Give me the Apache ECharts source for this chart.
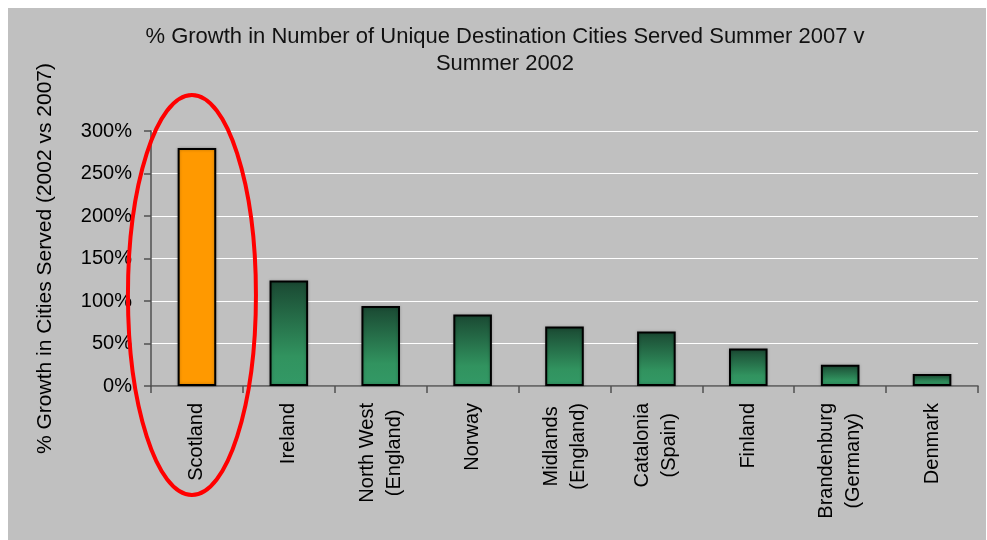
<!DOCTYPE html>
<html>
<head>
<meta charset="utf-8">
<title>% Growth in Number of Unique Destination Cities Served</title>
<script src="https://cdn.jsdelivr.net/npm/echarts@6/dist/echarts.min.js"></script>
<style>
  html, body { margin: 0; padding: 0; background: #ffffff; }
  #chart { width: 987px; height: 540px; }
</style>
</head>
<body>
<div id="chart"></div>
<script>
// Regions compared and their growth in destination cities served (%)
const categories = [
  'Scotland',
  'Ireland',
  'North West\n(England)',
  'Norway',
  'Midlands\n(England)',
  'Catalonia\n(Spain)',
  'Finland',
  'Brandenburg\n(Germany)',
  'Denmark'
];
const growthPct = [280, 124, 94, 84, 70, 64, 44, 25, 14];
const highlighted = 'Scotland';

const yMin = 0;
const yMax = 300;
const yStep = 50;

const FONT = '"Liberation Sans", Arial, Helvetica, sans-serif';

const greenFill = new echarts.graphic.LinearGradient(0, 0, 0, 1, [
  { offset: 0, color: '#1a4832' },
  { offset: 0.72, color: '#31935f' },
  { offset: 1, color: '#339966' }
]);

const chart = echarts.init(document.getElementById('chart'), null, { renderer: 'canvas' });

const panel = {
  type: 'rect',
  z: -100,
  silent: true,
  shape: { x: 8, y: 8, width: 978, height: 532 },
  style: { fill: '#c0c0c0' }
};

const option = {
  backgroundColor: '#ffffff',
  animation: false,
  title: {
    text: '% Growth in Number of Unique Destination Cities Served Summer 2007 v\nSummer 2002',
    left: 500,
    textAlign: 'center',
    top: 18,
    textStyle: {
      fontFamily: FONT,
      fontSize: 22,
      fontWeight: 'normal',
      color: '#111111',
      lineHeight: 27
    }
  },
  grid: {
    left: 151,
    right: 9,
    top: 131,
    bottom: 154,
    containLabel: false
  },
  xAxis: {
    type: 'category',
    data: categories,
    axisLine: { lineStyle: { color: '#505050', width: 1.5 } },
    axisTick: { show: true, length: 7, alignWithLabel: false, lineStyle: { color: '#505050', width: 1.5 } },
    axisLabel: {
      interval: 0,
      rotate: 90,
      margin: 17,
      color: '#000000',
      fontFamily: FONT,
      fontSize: 20,
      lineHeight: 27,
      formatter: function (v) {
        return v.split('\n').map(function (s) { return '{c|' + s + '}'; }).join('\n');
      },
      rich: {
        c: {
          align: 'center',
          fontFamily: FONT,
          fontSize: 20,
          lineHeight: 27,
          color: '#000000'
        }
      }
    },
    splitLine: { show: false }
  },
  yAxis: {
    type: 'value',
    min: yMin,
    max: yMax,
    interval: yStep,
    name: '% Growth in Cities Served (2002 vs 2007)',
    nameLocation: 'middle',
    nameRotate: 90,
    nameGap: 95,
    nameTextStyle: {
      fontFamily: FONT,
      fontSize: 21,
      color: '#000000'
    },
    axisLine: { show: true, lineStyle: { color: '#505050', width: 1.5 } },
    axisTick: { show: true, length: 7, inside: false, lineStyle: { color: '#505050', width: 1.5 } },
    axisLabel: {
      margin: 19,
      color: '#000000',
      fontFamily: FONT,
      fontSize: 20,
      formatter: '{value}%'
    },
    splitLine: { show: true, lineStyle: { color: '#ffffff', width: 1.2 } }
  },
  series: [{
    type: 'bar',
    barWidth: '42%',
    data: growthPct.map(function (v, i) {
      const isHi = categories[i] === highlighted;
      return {
        value: v,
        itemStyle: {
          color: isHi ? '#ff9900' : greenFill,
          borderColor: '#000000',
          borderWidth: 2,
          shadowColor: 'rgba(0,0,0,0.25)',
          shadowBlur: 3
        }
      };
    }),
    label: { show: false }
  }],
  graphic: [panel]
};

chart.setOption(option);

// Red ring drawn around the highlighted column, anchored to its category position
const hiIndex = categories.indexOf(highlighted);
const colX = chart.convertToPixel({ xAxisIndex: 0 }, hiIndex);
const topY = chart.convertToPixel({ yAxisIndex: 0 }, yMax);
const baseY = chart.convertToPixel({ yAxisIndex: 0 }, yMin);
const ringTop = topY - 36;
const ringBottom = baseY + 109;

chart.setOption({
  graphic: [panel, {
    type: 'ellipse',
    z: 100,
    silent: true,
    shape: {
      cx: colX - 5,
      cy: (ringTop + ringBottom) / 2,
      rx: 64,
      ry: (ringBottom - ringTop) / 2
    },
    style: { fill: 'none', stroke: '#ff0000', lineWidth: 4 }
  }]
});
</script>
</body>
</html>
